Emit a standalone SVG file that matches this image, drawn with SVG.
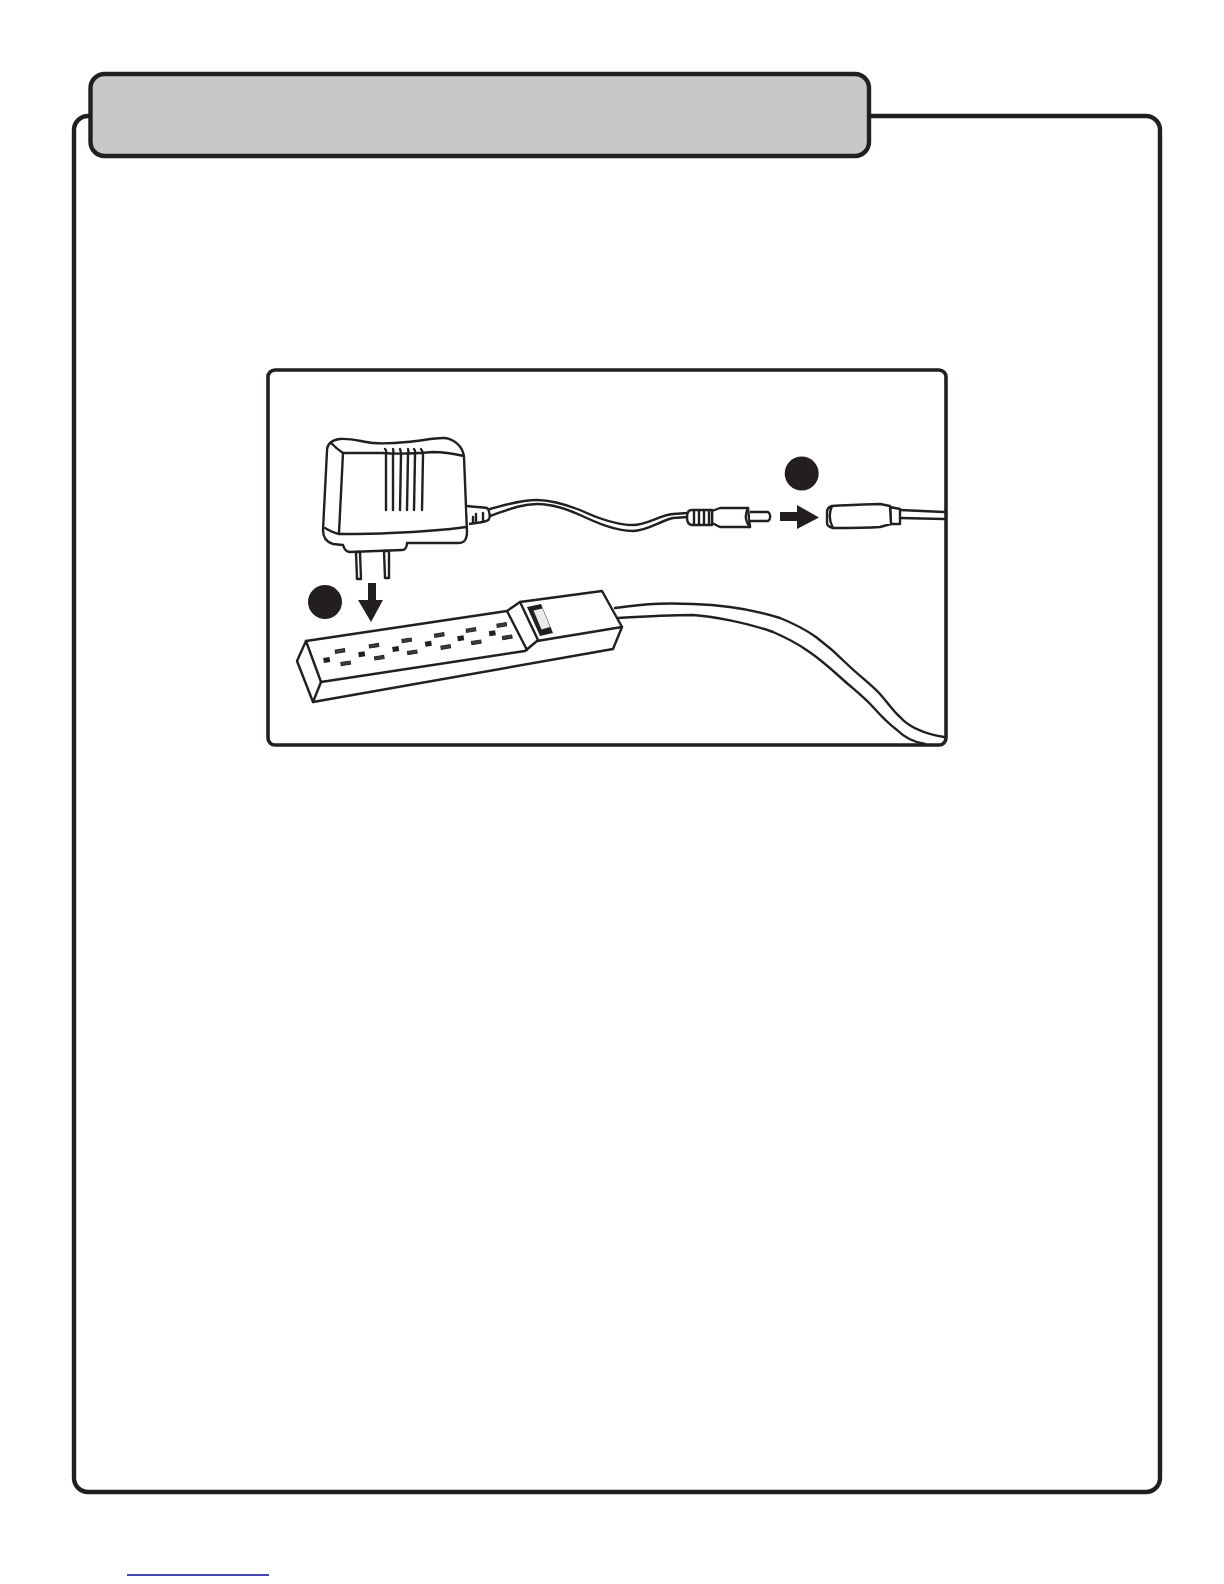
<svg xmlns="http://www.w3.org/2000/svg" width="1224" height="1584" viewBox="0 0 1224 1584">
<style>
.l{fill:none;stroke:#231f20;stroke-width:2.4;stroke-linejoin:round;stroke-linecap:round}
.w{fill:#fff;stroke:#231f20;stroke-width:2.4;stroke-linejoin:round}
.k{fill:#231f20;stroke:none}
.slot{fill:#3c3c3c;stroke:#231f20;stroke-width:1}
.gnd{fill:#231f20;stroke:none}
</style>
<defs>
<rect id="slot" x="-4.7" y="-1.6" width="9.4" height="3.2" class="slot"/>
<rect id="gnd" x="-3.2" y="-2.6" width="6.4" height="5.2" class="gnd"/>
</defs>
<rect width="1224" height="1584" fill="#fff"/>
<rect id="frame" x="74" y="116" width="1086" height="1376" rx="14" fill="#fff" stroke="#231f20" stroke-width="4.4"/>
<rect id="tab" x="90.5" y="74" width="778.5" height="82" rx="14" fill="#c8c8c8" stroke="#231f20" stroke-width="4.4"/>
<rect id="panel" x="268" y="370" width="678" height="375" rx="7" fill="#fff" stroke="#231f20" stroke-width="3.6"/>
<g id="strip-cord">
<path class="l" d="M615 608C650 603 670 603 693 604C725 605 755 610 780 618C795 624 806 630 816 637C828 646 838 655 847 664C858 675 870 683 880 694C888 703 893 711 900 717C908 726 920 733 944 737"/>
<path class="l" d="M618 618C650 616 670 615 693 615C710 616 745 622 773 632C787 638 798 644 808 651C820 659 830 668 840 677C852 688 863 696 873 707C881 716 889 724 897 730C904 737 913 742 925 744"/>
</g>
<g id="adapter-cable">
<path class="l" d="M490 509C505 505 520 500 537 500C553 500 567 505 580 510C595 517 615 525 633 525C647 525 660 515 673 514L688 513"/>
<path class="l" d="M490 516C505 511 520 504 537 504C553 504 567 509 580 515C595 522 615 531 633 531C647 531 660 521 673 518L688 517"/>
</g>
<g id="adapter">
<path class="w" d="M323 530L327 451C327 444 332 440 340 439C352 438 362 442 373 443C387 444 397 443 407 442C420 441 433 438 443 438C453 438 463 446 464 457L467 532C467 539 465 543 458 543L407 543C407 547 405 550 402 550L350 552C345 552 344 548 343 545L333 544C326 542 323 537 323 530Z"/>
<path class="l" d="M331 443C335 447 340 451 343 453C357 453 370 453 383 453C395 454 410 454 433 452C445 452 455 454 464 456"/>
<path class="l" d="M343 453L339 533"/>
<path class="l" d="M325 528C330 531 334 533 339 534C360 534 375 534 390 533C415 532 445 530 466 527"/>
<path class="l" d="M385 449C387 450 386 452 386 455L386 510M393 449C394 451 393 453 393 455L393 510M400 449C401 451 401 453 401 455L400 510M408 449C409 451 408 453 408 455L407 510M414 449C416 451 415 453 415 455L414 510M421 449C423 451 423 453 423 455L422 510"/>
<path class="w" d="M356 552L357 579L361 579L360 552Z"/>
<path class="w" d="M384 551L385 578L389 578L389 551Z"/>
<path class="w" d="M467 506C474 507 481 507 487 508C490 510 490 518 489 519C488 522 482 522 476 523L469 524"/>
<path class="l" d="M476 514L476 522M483 513L483 520M473 517L473 522"/>
</g>
<g id="plug">
<path class="w" d="M712 511L720 508L748 508L750 527L720 527L712 523Z"/>
<path class="l" d="M748 508C745 514 745 521 750 527"/>
<path class="w" d="M750 512L768 512C771 514 771 519 768 521L750 521"/>
<path class="w" d="M692 510L712 510L712 525L692 525C688 525 687 522 687 517C687 513 688 510 692 510Z"/>
<path class="l" d="M694 511L694 524M699 511L699 524M704 511L704 524M709 511L709 524"/>
</g>
<g id="socket">
<path class="l" d="M900 510L944 512M900 518L944 519"/>
<path class="w" d="M890 507L900 509L900 524L891 524Z"/>
<path class="w" d="M832 506C850 505 865 504 880 504L890 506L891 524L880 527C865 528 850 528 833 528C829 527 827 525 827 523L827 512C827 509 829 507 832 506Z"/>
<path class="l" d="M832 506C829 513 829 521 833 528"/>
</g>
<g id="power-strip">
<path class="w" d="M306 641L507 611L520 602L602 591L622 627L613 649L313 702L297 661Z"/>
<path class="l" d="M306 641L321 682L525 651L537 641L622 627"/>
<path class="l" d="M321 682L313 702"/>
<path class="l" d="M507 611L527 650M520 602L538 640"/>
<path class="k" d="M527 607L541 604L553 633L540 636Z"/>
<path d="M533.5 610.5L542.5 608.5L550 627L541.5 629.5Z" fill="#ececec"/>
<use href="#gnd" transform="translate(326.7 660) rotate(-9)"/>
<use href="#gnd" transform="translate(361.7 654.3) rotate(-9)"/>
<use href="#gnd" transform="translate(395.7 649) rotate(-9)"/>
<use href="#gnd" transform="translate(428.3 643.7) rotate(-9)"/>
<use href="#gnd" transform="translate(460.7 638.3) rotate(-9)"/>
<use href="#gnd" transform="translate(492.3 633.3) rotate(-9)"/>
<use href="#slot" transform="translate(340 651) rotate(-9)"/>
<use href="#slot" transform="translate(374 645.7) rotate(-9)"/>
<use href="#slot" transform="translate(406.7 640.3) rotate(-9)"/>
<use href="#slot" transform="translate(439.3 635) rotate(-9)"/>
<use href="#slot" transform="translate(471 630) rotate(-9)"/>
<use href="#slot" transform="translate(501.7 625) rotate(-9)"/>
<use href="#slot" transform="translate(345.7 663.3) rotate(-9)"/>
<use href="#slot" transform="translate(379.3 657.7) rotate(-9)"/>
<use href="#slot" transform="translate(412.3 652.3) rotate(-9)"/>
<use href="#slot" transform="translate(445.7 647) rotate(-9)"/>
<use href="#slot" transform="translate(476.3 642.3) rotate(-9)"/>
<use href="#slot" transform="translate(507.3 637.3) rotate(-9)"/>
</g>
<g id="callouts">
<circle class="k" cx="325" cy="602" r="17"/>
<circle class="k" cx="801.7" cy="473.5" r="17"/>
<path class="k" d="M368 583L376 583L376 600L383 600L371 622L358 600L368 600Z"/>
<path class="k" d="M780 512L797 512L797 505L819 517.5L797 529L797 521L780 521Z"/>
</g>
<line id="footer-rule" x1="127" y1="1575" x2="269" y2="1575" stroke="#0a0a99" stroke-width="1.5"/>
</svg>
